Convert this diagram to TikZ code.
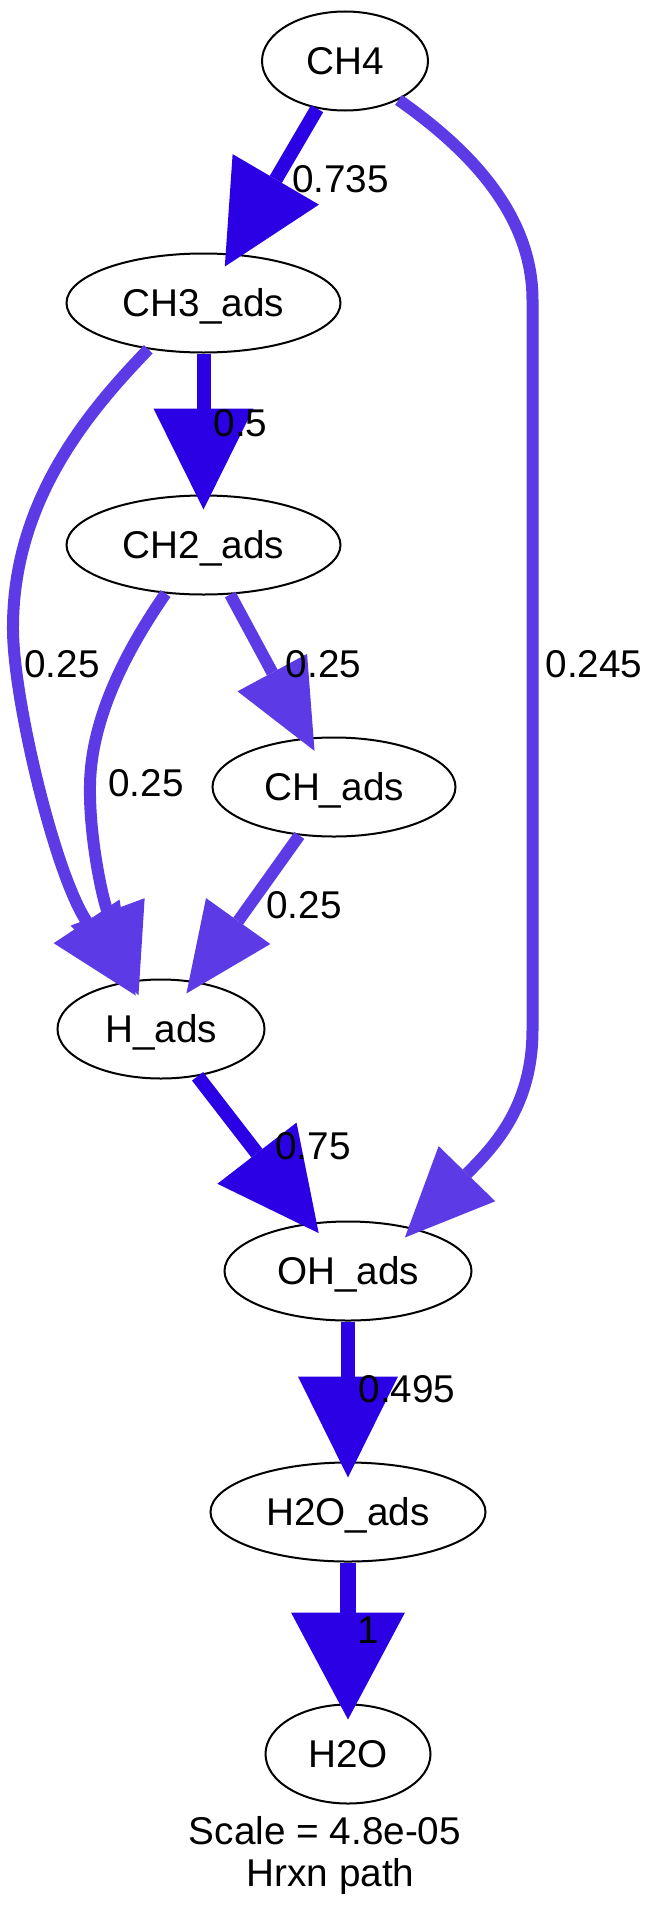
\documentclass[tikz,border=0pt]{standalone}
\usepackage{fontspec}
\setmainfont{Liberation Sans}
\usetikzlibrary{arrows.meta,shapes.geometric}
\definecolor{fluxdark}{RGB}{44,0,228}
\definecolor{fluxlight}{RGB}{92,59,230}
\begin{document}
\begin{tikzpicture}[x=1pt,y=-1pt,
  species/.style={ellipse, draw=black, line width=2pt, inner sep=0pt,
    font=\fontsize{38.7}{46}\selectfont, text height=27.7pt, text depth=0pt},
  flux/.style={font=\fontsize{38.7}{46}\selectfont, anchor=base, inner sep=0pt},
  darkedge/.style={draw=fluxdark, line width=14pt,
    -{Triangle[length=101pt,width=100pt,line width=0pt,fill=fluxdark]}, shorten >=-15pt},
  bigedge/.style={draw=fluxdark, line width=16pt,
    -{Triangle[length=107pt,width=114pt,line width=0pt,fill=fluxdark]}, shorten >=-16pt},
  lightedge/.style={draw=fluxlight, line width=12pt,
    -{Triangle[length=89pt,width=79pt,line width=0pt,fill=fluxlight]}, shorten >=-15pt}
]
\useasboundingbox (0,0) rectangle (652,1919);
% species
\node[species, minimum width=166pt, minimum height=99pt] (CH4) at (345,61) {CH4};
\node[species, minimum width=274pt, minimum height=99pt] (CH3) at (203.5,303) {CH3\_ads};
\node[species, minimum width=274pt, minimum height=99pt] (CH2) at (203.5,545) {CH2\_ads};
\node[species, minimum width=243pt, minimum height=99pt] (CH) at (334,787) {CH\_ads};
\node[species, minimum width=207pt, minimum height=99pt] (H) at (161,1029) {H\_ads};
\node[species, minimum width=247pt, minimum height=99pt] (OH) at (348,1271) {OH\_ads};
\node[species, minimum width=275pt, minimum height=99pt] (H2Oads) at (348,1512) {H2O\_ads};
\node[species, minimum width=165pt, minimum height=99pt] (H2O) at (348,1754) {H2O};
% connectors
\draw[darkedge] (CH4) -- (CH3);
\draw[darkedge] (CH3) -- (CH2);
\draw[lightedge, shorten >=-17pt] (CH3.220.8) .. controls (90,410) and (12,500) .. (13,630)
   .. controls (13.5,700) and (54.5,873) .. (H.126);
\draw[lightedge, shorten >=-16pt] (CH2.232) .. controls (130,645) and (91,715) .. (90,785)
   .. controls (89,835) and (101.7,895.9) .. (H.120);
\draw[lightedge] (CH2) -- (CH);
\draw[lightedge] (CH) -- (H);
\draw[darkedge, shorten >=-13pt] (H) -- (OH);
\draw[lightedge, shorten >=-13pt] (CH4.324.7) .. controls (470,150) and (532.5,215) .. (532.5,300)
   -- (532.5,1030) .. controls (532.5,1110) and (490,1150) .. (OH.33.6);
\draw[darkedge, shorten >=-16pt] (OH) -- (H2Oads);
\draw[bigedge] (H2Oads) -- (H2O);
% labels
\node[flux] (l1) at (340.5,192.7) {0.735};
\node[flux] (l2) at (240.5,436.3) {0.5};
\node[flux] (l3) at (62,677.7) {0.25};
\node[flux] (l4) at (323.5,677.7) {0.25};
\node[flux] (l5) at (594,677.7) {0.245};
\node[flux] (l6) at (146,796.7) {0.25};
\node[flux] (l7) at (304,918.7) {0.25};
\node[flux] (l8) at (313,1159.9) {0.75};
\node[flux] (l9) at (407,1402.8) {0.495};
\node[flux] (l10) at (368.5,1643.9) {1};
\node[flux] (title1) at (325,1844) {Scale = 4.8e-05};
\node[flux] (title2) at (330.5,1886.7) {Hrxn path};
\end{tikzpicture}
\end{document}
